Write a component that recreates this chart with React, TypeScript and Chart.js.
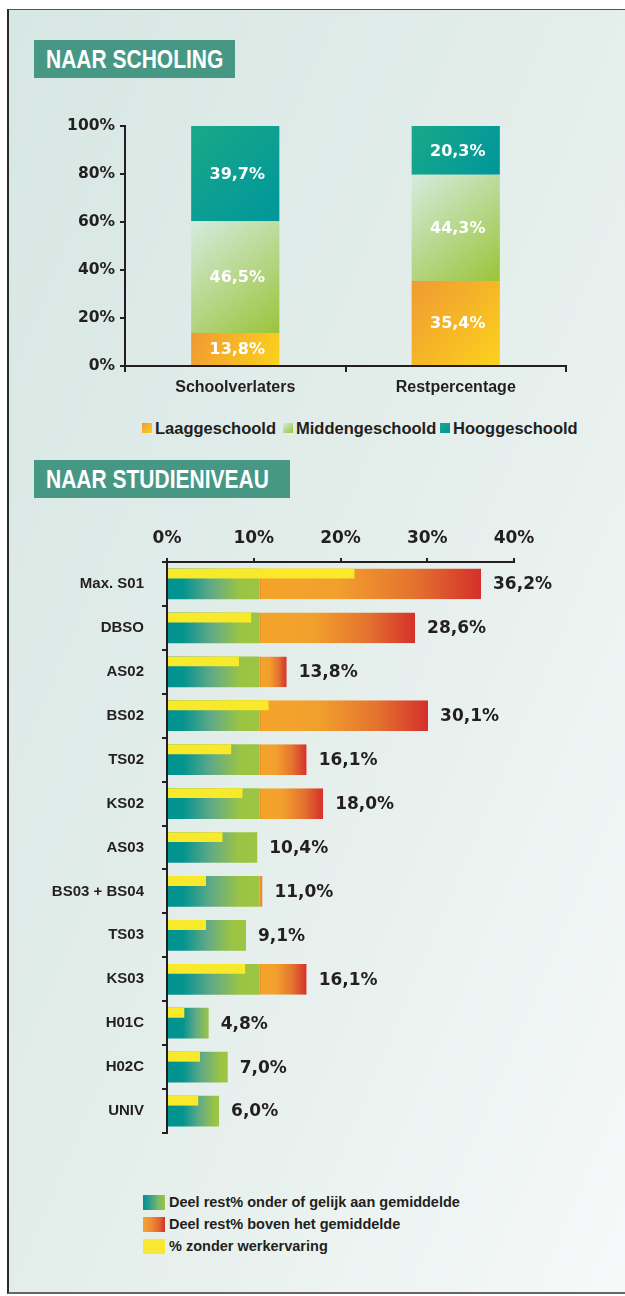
import React, { useEffect, useRef } from "react";
import { Chart, registerables } from "chart.js";

Chart.register(...registerables);

const INK = "#231f20";
const NUM_FONT = "'DejaVu Sans', sans-serif";
const LABEL_FONT = "'Liberation Sans', Arial, sans-serif";

// ---------- NAAR SCHOLING ----------
const scholingCategories = ["Schoolverlaters", "Restpercentage"];
const laaggeschoold = [13.8, 35.4];
const middengeschoold = [46.5, 44.3];
const hooggeschoold = [39.7, 20.3];
const scholingLegend = ["Laaggeschoold", "Middengeschoold", "Hooggeschoold"];
const scholingTickStep = 20;

// ---------- NAAR STUDIENIVEAU ----------
const niveauCategories = [
  "Max. S01",
  "DBSO",
  "AS02",
  "BS02",
  "TS02",
  "KS02",
  "AS03",
  "BS03 + BS04",
  "TS03",
  "KS03",
  "H01C",
  "H02C",
  "UNIV",
];
const restTotal = [36.2, 28.6, 13.8, 30.1, 16.1, 18.0, 10.4, 11.0, 9.1, 16.1, 4.8, 7.0, 6.0];
const restBelowMean = [10.7, 10.7, 10.7, 10.7, 10.7, 10.7, 10.4, 10.7, 9.1, 10.7, 4.8, 7.0, 6.0];
const restAboveMean = [25.5, 17.9, 3.1, 19.4, 5.4, 7.3, 0, 0.3, 0, 5.4, 0, 0, 0];
const zonderWerkervaring = [21.6, 9.7, 8.3, 11.7, 7.4, 8.7, 6.4, 4.5, 4.5, 9.0, 2.0, 3.8, 3.6];
const niveauLegend = [
  "Deel rest% onder of gelijk aan gemiddelde",
  "Deel rest% boven het gemiddelde",
  "% zonder werkervaring",
];
const niveauTickStep = 10;

const fmt = (v: number) => v.toFixed(1).replace(".", ",") + "%";

function ScholingChart() {
  const ref = useRef<HTMLCanvasElement>(null);
  useEffect(() => {
    const series = [laaggeschoold, middengeschoold, hooggeschoold];
    const palettes = [
      ["#f19a33", "#fad21c"],
      ["#d5ebdf", "#9bc43a"],
      ["#19a888", "#00969b"],
    ];
    const barFrac = 0.4;
    const fill = (d: number) => (c: any) => {
      const chart = c.chart;
      if (c.type !== "data" || !chart.chartArea) return palettes[d][1];
      const { x, y } = chart.scales;
      const j = c.dataIndex;
      let start = 0;
      for (let k = 0; k < d; k++) start += series[k][j];
      const end = start + series[d][j];
      const cx = x.getPixelForValue(j);
      const half = ((x.width / scholingCategories.length) * barFrac) / 2;
      const g = chart.ctx.createLinearGradient(cx - half, y.getPixelForValue(end), cx + half, y.getPixelForValue(start));
      g.addColorStop(0, palettes[d][0]);
      g.addColorStop(1, palettes[d][1]);
      return g;
    };
    const inside = {
      id: "insideLabels",
      afterDatasetsDraw(chart: any) {
        const ctx = chart.ctx;
        ctx.save();
        ctx.font = `bold 16px ${NUM_FONT}`;
        ctx.fillStyle = "#ffffff";
        ctx.textAlign = "center";
        ctx.textBaseline = "middle";
        chart.data.datasets.forEach((ds: any, d: number) => {
          chart.getDatasetMeta(d).data.forEach((el: any, j: number) => {
            ctx.fillText(fmt(ds.data[j]), el.x + 2, (el.y + el.base) / 2 + 1);
          });
        });
        ctx.restore();
      },
    };
    const chart = new Chart(ref.current!, {
      type: "bar",
      data: {
        labels: scholingCategories,
        datasets: series.map((s, d) => ({
          label: scholingLegend[d],
          data: s,
          backgroundColor: fill(d),
          borderWidth: 0,
          categoryPercentage: 1,
          barPercentage: barFrac,
        })),
      },
      options: {
        animation: false,
        responsive: false,
        layout: { padding: { left: 0, right: 59, top: 26, bottom: 4 } },
        plugins: { legend: { display: false }, tooltip: { enabled: false } },
        scales: {
          x: {
            stacked: true,
            grid: { drawOnChartArea: false, offset: true, tickLength: 6, color: INK, lineWidth: 2 },
            border: { color: INK, width: 2 },
            ticks: { color: INK, font: { family: LABEL_FONT, weight: "bold", size: 16 }, padding: 6 },
            afterFit: (s: any) => {
              s.height = 40;
            },
          },
          y: {
            stacked: true,
            min: 0,
            max: 100,
            ticks: {
              stepSize: scholingTickStep,
              callback: (v: any) => v + "%",
              color: INK,
              font: { family: NUM_FONT, weight: "bold", size: 15.5 },
              padding: 5,
            },
            grid: { drawOnChartArea: false, tickLength: 5, color: INK, lineWidth: 2 },
            border: { color: INK, width: 2 },
            afterFit: (s: any) => {
              s.width = 125;
            },
          },
        },
      } as any,
      plugins: [inside],
    });
    return () => chart.destroy();
  }, []);
  return <canvas ref={ref} width={625} height={310} style={{ position: "absolute", left: 0, top: 100 }} />;
}

function NiveauChart() {
  const ref = useRef<HTMLCanvasElement>(null);
  useEffect(() => {
    const cat = 0.711;
    const thin = 0.952;
    const thick = 2.952;
    const green = (c: any) => {
      const chart = c.chart;
      if (c.type !== "data" || !chart.chartArea) return "#4fa987";
      const xs = chart.scales.x;
      const v = restBelowMean[c.dataIndex];
      const x0 = xs.getPixelForValue(0);
      const x1 = xs.getPixelForValue(v);
      const len = Math.max(1, x1 - x0);
      const g = chart.ctx.createLinearGradient(x0, 0, x1, 0);
      const t = Math.min(0.45, 16 / len);
      const gEnd = Math.min(1, (16 + 0.62 * len) / len);
      g.addColorStop(0, "#00928f");
      g.addColorStop(t, "#04948f");
      g.addColorStop((t + gEnd) / 2, "#62aa86");
      g.addColorStop(gEnd, "#9cc444");
      g.addColorStop(1, "#9dc443");
      return g;
    };
    const orange = (c: any) => {
      const chart = c.chart;
      if (c.type !== "data" || !chart.chartArea) return "#ec8a2e";
      const xs = chart.scales.x;
      const i = c.dataIndex;
      const x0 = xs.getPixelForValue(restBelowMean[i]);
      const x1 = xs.getPixelForValue(restBelowMean[i] + restAboveMean[i]);
      const g = chart.ctx.createLinearGradient(x0, 0, Math.max(x0 + 1, x1), 0);
      g.addColorStop(0, "#f5a42a");
      g.addColorStop(0.35, "#f2a02d");
      g.addColorStop(0.7, "#e4722f");
      g.addColorStop(1, "#d5302b");
      return g;
    };
    const endLabels = {
      id: "endLabels",
      afterDatasetsDraw(chart: any) {
        const ctx = chart.ctx;
        const g = chart.getDatasetMeta(1).data;
        const o = chart.getDatasetMeta(2).data;
        ctx.save();
        ctx.font = `bold 17px ${NUM_FONT}`;
        ctx.fillStyle = INK;
        ctx.textAlign = "left";
        ctx.textBaseline = "middle";
        restTotal.forEach((v, i) => {
          const end = Math.max(g[i].x, o[i].x);
          ctx.fillText(fmt(v), end + 12, g[i].y + 1);
        });
        ctx.restore();
      },
    };
    const chart = new Chart(ref.current!, {
      type: "bar",
      data: {
        labels: niveauCategories,
        datasets: [
          {
            label: niveauLegend[2],
            data: zonderWerkervaring,
            stack: "werk",
            backgroundColor: "#f8e92a",
            borderWidth: 0,
            categoryPercentage: cat,
            barPercentage: thin,
          },
          {
            label: niveauLegend[0],
            data: restBelowMean,
            stack: "rest",
            backgroundColor: green,
            borderWidth: 0,
            categoryPercentage: cat,
            barPercentage: thick,
          },
          {
            label: niveauLegend[1],
            data: restAboveMean,
            stack: "rest",
            backgroundColor: orange,
            borderColor: "#ee9124",
            borderWidth: { left: 2, top: 0, right: 0, bottom: 0 },
            borderSkipped: false,
            categoryPercentage: cat,
            barPercentage: thick,
          },
          {
            label: "",
            data: [],
            stack: "spacer",
            categoryPercentage: cat,
            barPercentage: thin,
          },
        ],
      },
      options: {
        indexAxis: "y",
        animation: false,
        responsive: false,
        layout: { padding: { left: 0, right: 111, top: 17, bottom: 22 } },
        plugins: { legend: { display: false }, tooltip: { enabled: false } },
        scales: {
          x: {
            position: "top",
            stacked: true,
            min: 0,
            max: 40,
            ticks: {
              stepSize: niveauTickStep,
              callback: (v: any) => v + "%",
              color: INK,
              font: { family: NUM_FONT, weight: "bold", size: 17 },
              padding: 9,
            },
            grid: { drawOnChartArea: false, tickLength: 4, color: INK, lineWidth: 2 },
            border: { color: INK, width: 2 },
            afterFit: (s: any) => {
              s.height = 45;
            },
          },
          y: {
            ticks: { color: INK, font: { family: LABEL_FONT, weight: "bold", size: 15 }, padding: 18 },
            grid: { drawOnChartArea: false, offset: true, tickLength: 5, color: INK, lineWidth: 2 },
            border: { color: INK, width: 2 },
            afterFit: (s: any) => {
              s.width = 167;
            },
          },
        },
      } as any,
      plugins: [endLabels],
    });
    return () => chart.destroy();
  }, []);
  return <canvas ref={ref} width={625} height={660} style={{ position: "absolute", left: 0, top: 500 }} />;
}

const Header = ({ top, width, text }: { top: number; width: number; text: string }) => (
  <div
    style={{
      position: "absolute",
      left: 34,
      top,
      width,
      height: 38,
      background: "#469884",
      overflow: "hidden",
    }}
  >
    <div
      style={{
        position: "absolute",
        left: 12,
        top: 0,
        color: "#ffffff",
        fontFamily: LABEL_FONT,
        fontWeight: "bold",
        fontSize: 25,
        lineHeight: "38px",
        whiteSpace: "nowrap",
        transform: "scaleX(0.84)",
        transformOrigin: "left center",
      }}
    >
      {text}
    </div>
  </div>
);

const scholingSwatches = [
  "linear-gradient(135deg, #f19a33, #fad21c)",
  "linear-gradient(135deg, #d5ebdf, #9bc43a)",
  "linear-gradient(135deg, #19a888, #00969b)",
];
const scholingLegendX = [142, 283, 440];

const niveauSwatches = [
  "linear-gradient(90deg, #00928f 0%, #2e9d8d 30%, #7db865 70%, #9dc443 100%)",
  "linear-gradient(90deg, #f3a33a 0%, #ee8a33 40%, #e0622f 75%, #d5302b 100%)",
  "#f8e834",
];

export default function App() {
  return (
    <div
      style={{
        position: "fixed",
        left: 0,
        top: 0,
        width: 625,
        height: 1296,
        overflow: "hidden",
        background: "#ffffff",
      }}
    >
      <div
        style={{
          position: "absolute",
          left: 7,
          top: 9,
          width: 660,
          height: 1285,
          boxSizing: "border-box",
          borderLeft: "2px solid #2a2a2a",
          borderTop: "1px solid #555555",
          borderBottom: "2px solid #666666",
          background: "linear-gradient(113deg, #d7e7e3 0%, #e4eeeb 50%, #f7fafa 100%)",
        }}
      />
      <Header top={40} width={201} text="NAAR SCHOLING" />
      <ScholingChart />
      {scholingLegend.map((name, i) => (
        <div
          key={name}
          style={{
            position: "absolute",
            left: scholingLegendX[i],
            top: 418,
            height: 20,
            display: "flex",
            alignItems: "center",
            whiteSpace: "nowrap",
          }}
        >
          <span style={{ width: 10, height: 10, background: scholingSwatches[i], marginRight: 3 }} />
          <span style={{ fontFamily: LABEL_FONT, fontWeight: "bold", fontSize: 16.5, color: INK }}>{name}</span>
        </div>
      ))}
      <Header top={460} width={256} text="NAAR STUDIENIVEAU" />
      <NiveauChart />
      <div style={{ position: "absolute", left: 143, top: 1191 }}>
        {niveauLegend.map((name, i) => (
          <div key={name} style={{ height: 22, display: "flex", alignItems: "center", whiteSpace: "nowrap" }}>
            <span style={{ width: 22, height: 15, background: niveauSwatches[i], marginRight: 4 }} />
            <span style={{ fontFamily: LABEL_FONT, fontWeight: "bold", fontSize: 14.5, color: INK }}>{name}</span>
          </div>
        ))}
      </div>
    </div>
  );
}
